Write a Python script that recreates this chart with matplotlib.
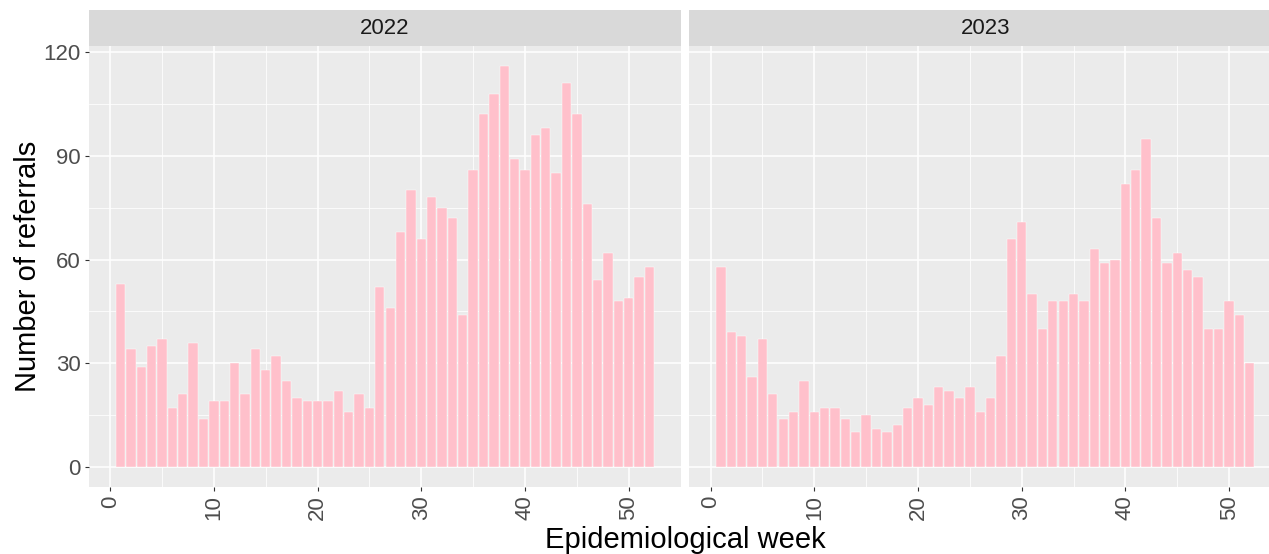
import numpy as np
import matplotlib
matplotlib.use("Agg")
import matplotlib.pyplot as plt

# ===============================================================
#  Data: weekly referrals per year
# ===============================================================
weeks = np.arange(1, 53)
years = ["2022", "2023"]

ref_2022 = [53, 34, 29, 35, 37, 17, 21, 36, 14, 19,
            19, 30, 21, 34, 28, 32, 25, 20, 19, 19,
            19, 22, 16, 21, 17, 52, 46, 68, 80, 66,
            78, 75, 72, 44, 86, 102, 108, 116, 89, 86,
            96, 98, 85, 111, 102, 76, 54, 62, 48, 49,
            55, 58]
ref_2023 = [58, 39, 38, 26, 37, 21, 14, 16, 25, 16,
            17, 17, 14, 10, 15, 11, 10, 12, 17, 20,
            18, 23, 22, 20, 23, 16, 20, 32, 66, 71,
            50, 40, 48, 48, 50, 48, 63, 59, 60, 82,
            86, 95, 72, 59, 62, 57, 55, 40, 40, 48,
            44, 30]
values = [ref_2022, ref_2023]

yticks = [0, 30, 60, 90, 120]
xticks = [0, 10, 20, 30, 40, 50]

# ===============================================================
#  Layout (pixels -> figure fractions)
# ===============================================================
W, H = 1269, 554
dpi = 100
plt.rcParams['font.family'] = ['Liberation Sans', 'DejaVu Sans']

fig = plt.figure(figsize=(W/dpi, H/dpi), dpi=dpi, facecolor='white')

panel_left = [89, 689.4]
panel_w = 592
panel_top, panel_bot = 46, 487
strip_top = 10

bar_color = '#FFC0CB'
bg = '#EBEBEB'

for k in range(2):
    ax = fig.add_axes([panel_left[k]/W, (H-panel_bot)/H, panel_w/W, (panel_bot-panel_top)/H])
    ax.set_facecolor(bg)
    ax.bar(weeks, values[k], width=0.9, color=bar_color, edgecolor='white', linewidth=0.3, zorder=3)

    # ggplot-like limits (5% expansion)
    xr = (weeks[0]-0.45, weeks[-1]+0.45)
    xe = 0.05*(xr[1]-xr[0])
    ax.set_xlim(xr[0]-xe, xr[1]+xe)
    ymax = max(max(ref_2022), max(ref_2023))
    ax.set_ylim(-0.05*ymax, 1.05*ymax)

    ax.set_xticks(xticks)
    ax.set_xticks([5, 15, 25, 35, 45, 55], minor=True)
    ax.set_yticks(yticks)
    ax.set_yticks([15, 45, 75, 105], minor=True)
    ax.grid(True, which='major', color='white', linewidth=1.1, zorder=0)
    ax.grid(True, which='minor', color='white', linewidth=0.55, zorder=0)
    ax.set_axisbelow(True)

    for s in ax.spines.values():
        s.set_visible(False)

    ax.tick_params(which='minor', length=0)
    ax.tick_params(axis='x', which='major', length=3, width=0.8, color='#333333',
                   labelsize=16, labelcolor='#4D4D4D', pad=3, labelrotation=90)
    if k == 0:
        ax.tick_params(axis='y', which='major', length=3, width=0.8, color='#333333',
                       labelsize=16, labelcolor='#4D4D4D', pad=3)
    else:
        ax.tick_params(axis='y', which='major', length=0, labelleft=False)
    for lab in ax.get_xticklabels():
        lab.set_va('top')
        lab.set_ha('center')

    # facet strip
    sax = fig.add_axes([panel_left[k]/W, (H-panel_top)/H, panel_w/W, (panel_top-strip_top)/H])
    sax.set_facecolor('#D9D9D9')
    sax.set_xticks([])
    sax.set_yticks([])
    for s in sax.spines.values():
        s.set_visible(False)
    sax.text(0.5, 0.5, years[k], ha='center', va='center', fontsize=16,
             color='#1A1A1A', transform=sax.transAxes)

# axis titles
fig.text(685/W, (H-548)/H, 'Epidemiological week', ha='center', va='baseline', fontsize=21)
fig.text(28/W, (H-266)/H, 'Number of referrals', ha='center', va='center', rotation=90, fontsize=21)

fig.savefig('out.png', dpi=dpi)
